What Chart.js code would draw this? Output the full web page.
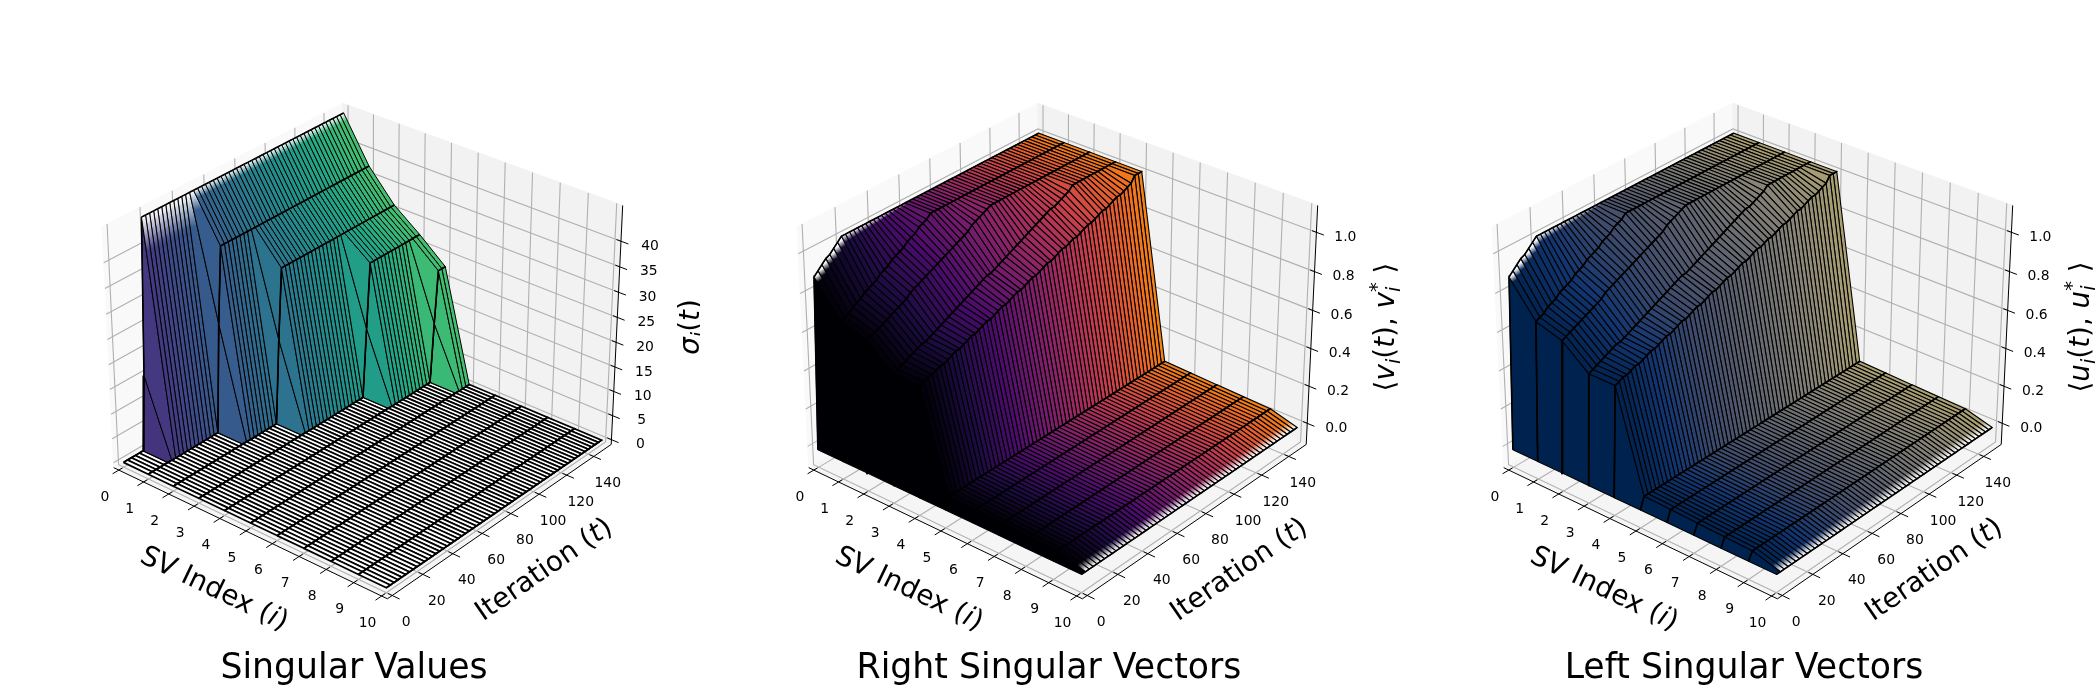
<!DOCTYPE html>
<html>
<head>
<meta charset="utf-8">
<script src="https://cdn.jsdelivr.net/npm/chart.js@4/dist/chart.umd.min.js"></script>
<style>
html, body { margin: 0; background: #fff; }
#wrap { position: relative; width: 2100px; height: 700px; overflow: hidden; }
canvas { position: absolute; top: 0; }
</style>
</head>
<body>
<div id="wrap">
<canvas id="c1" width="700" height="700" style="left:0"></canvas>
<canvas id="c2" width="700" height="700" style="left:700px"></canvas>
<canvas id="c3" width="700" height="700" style="left:1400px"></canvas>
</div>
<script>
// sampled rows of the surfaces
const iterations = [0,2.5,5,7.5,10,12.5,15,17.5,20,22.5, 25,27.5,30,32.5,35,37.5,40,42.5,45,47.5, 50,52.5,55,57.5,60,62.5,65,67.5,70,72.5, 75,77.5,80,82.5,85,87.5,90,92.5,95,97.5, 100,102.5,105,107.5,110,112.5,115,117.5,120,122.5, 125,127.5,130,132.5,135,137.5,140,142.5,145,147.5, 150];
const svIndex = [0,1,2,3,4,5,6,7,8,9,10];

// singular values, one array per SV index
const sigma0 = [0,0,0,0,0,0,15,45.8,45.8,45.8, 45.8,45.8,45.8,45.8,45.8,45.8,45.8,45.8,45.8,45.8, 45.8,45.8,45.8,45.8,45.8,45.8,45.8,45.8,45.8,45.8, 45.8,45.8,45.8,45.8,45.8,45.8,45.8,45.8,45.8,45.8, 45.8,45.8,45.8,45.8,45.8,45.8,45.8,45.8,45.8,45.8, 45.8,45.8,45.8,45.8,45.8,45.8,45.8,45.8,45.8,45.8, 45.8];
const sigma1 = [0,0,0,0,0,0,0,0,0,0, 0,0,0,0,0,0,0,0,0,22, 37,37,37,37,37,37,37,37,37,37, 37,37,37,37,37,37,37,37,37,37, 37,37,37,37,37,37,37,37,37,37, 37,37,37,37,37,37,37,37,37,37, 37];
const sigma2 = [0,0,0,0,0,0,0,0,0,0, 0,0,0,0,0,0,0,0,0,0, 0,0,0,0,0,0,0,0,17,31, 31,31,31,31,31,31,31,31,31,31, 31,31,31,31,31,31,31,31,31,31, 31,31,31,31,31,31,31,31,31,31, 31];
const sigma3 = [0,0,0,0,0,0,0,0,0,0, 0,0,0,0,0,0,0,0,0,0, 0,0,0,0,0,0,0,0,0,0, 0,0,0,0,0,0,0,0,0,0, 0,0,0,0,0,14,27,27,27,27, 27,27,27,27,27,27,27,27,27,27, 27];
const sigma4 = [0,0,0,0,0,0,0,0,0,0, 0,0,0,0,0,0,0,0,0,0, 0,0,0,0,0,0,0,0,0,0, 0,0,0,0,0,0,0,0,0,0, 0,0,0,0,0,0,0,0,0,0, 0,0,0,0,0,0,0,12,22.5,22.5, 22.5];
const sigmaRest = [0,0,0,0,0,0,0,0,0,0, 0,0,0,0,0,0,0,0,0,0, 0,0,0,0,0,0,0,0,0,0, 0,0,0,0,0,0,0,0,0,0, 0,0,0,0,0,0,0,0,0,0, 0,0,0,0,0,0,0,0,0,0, 0];

// alignment with the true vectors, reads the same on the right and left panels
const align0 = [-.02,.87,.89,.91,.93,.94,.96,.98,1,1, 1,1,1,1,1,1,1,1,1,1, 1,1,1,1,1,1,1,1,1,1, 1,1,1,1,1,1,1,1,1,1, 1,1,1,1,1,1,1,1,1,1, 1,1,1,1,1,1,1,1,1,1, 1];
const align1 = [-.02,.70,.71,.72,.74,.75,.76,.78,.79,.80, .81,.83,.84,.85,.87,.88,.89,.90,.92,.93, .94,.96,.97,.98,1,1,1,1,1,1, 1,1,1,1,1,1,1,1,1,1, 1,1,1,1,1,1,1,1,1,1, 1,1,1,1,1,1,1,1,1,1, 1];
const align2 = [-.02,.66,.67,.68,.69,.70,.71,.72,.73,.74, .75,.76,.78,.79,.80,.81,.82,.83,.84,.85, .86,.87,.88,.89,.90,.91,.92,.93,.95,.96, .97,.98,.99,1,1,1,1,1,1,1, 1,1,1,1,1,1,1,1,1,1, 1,1,1,1,1,1,1,1,1,1, 1];
const align3 = [-.02,.55,.56,.57,.58,.59,.60,.61,.62,.62, .63,.64,.65,.66,.67,.68,.69,.70,.71,.72, .73,.74,.75,.76,.77,.78,.78,.79,.80,.81, .82,.83,.84,.85,.86,.87,.88,.89,.90,.91, .92,.93,.94,.94,.95,.96,.97,.98,1,1, 1,1,1,1,1,1,1,1,1,1, 1];
const align4 = [-.02,.55,.56,.57,.57,.58,.59,.59,.60,.61, .62,.62,.63,.64,.65,.65,.66,.67,.68,.68, .69,.70,.71,.71,.72,.73,.74,.74,.75,.76, .77,.77,.78,.79,.80,.80,.81,.82,.83,.83, .84,.85,.85,.86,.87,.88,.88,.89,.90,.91, .91,.92,.93,.94,.94,.95,.96,.97,1,1, 1];
const align5 = [-.02,.04,.04,.04,.04,.04,.04,.04,.04,.04, .04,.04,.04,.04,.04,.04,.04,.04,.04,.04, .04,.04,.04,.04,.04,.04,.04,.04,.04,.04, .04,.04,.04,.04,.04,.04,.04,.04,.04,.04, .04,.04,.04,.04,.04,.04,.04,.04,.04,.04, .04,.04,.04,.04,.04,.04,.04,.04,.04,.04, .04];
const align6 = [-.02,.035,.035,.035,.035,.035,.035,.035,.035,.035, .035,.035,.035,.035,.035,.035,.035,.035,.035,.035, .035,.035,.035,.035,.035,.035,.035,.035,.035,.035, .035,.035,.035,.035,.035,.035,.035,.035,.035,.035, .035,.035,.035,.035,.035,.035,.035,.035,.035,.035, .035,.035,.035,.035,.035,.035,.035,.035,.035,.035, .035];
const align7 = [-.02,.03,.03,.03,.03,.03,.03,.03,.03,.03, .03,.03,.03,.03,.03,.03,.03,.03,.03,.03, .03,.03,.03,.03,.03,.03,.03,.03,.03,.03, .03,.03,.03,.03,.03,.03,.03,.03,.03,.03, .03,.03,.03,.03,.03,.03,.03,.03,.03,.03, .03,.03,.03,.03,.03,.03,.03,.03,.03,.03, .03];
const align8 = [-.02,.025,.025,.025,.025,.025,.025,.025,.025,.025, .025,.025,.025,.025,.025,.025,.025,.025,.025,.025, .025,.025,.025,.025,.025,.025,.025,.025,.025,.025, .025,.025,.025,.025,.025,.025,.025,.025,.025,.025, .025,.025,.025,.025,.025,.025,.025,.025,.025,.025, .025,.025,.025,.025,.025,.025,.025,.025,.025,.025, .025];
const align9 = [-.02,.02,.02,.02,.02,.02,.02,.02,.02,.02, .02,.02,.02,.02,.02,.02,.02,.02,.02,.02, .02,.02,.02,.02,.02,.02,.02,.02,.02,.02, .02,.02,.02,.02,.02,.02,.02,.02,.02,.02, .02,.02,.02,.02,.02,.02,.02,.02,.02,.02, .02,.02,.02,.02,.02,.02,.02,.02,.02,.02, .02];
const align10 = [-.02,-.02,-.02,-.02,-.02,-.02,-.02,-.02,-.02,-.02, -.02,-.02,-.02,-.02,-.02,-.02,-.02,-.02,-.02,-.02, -.02,-.02,-.02,-.02,-.02,-.02,-.02,-.02,-.02,-.02, -.02,-.02,-.02,-.02,-.02,-.02,-.02,-.02,-.02,-.02, -.02,-.02,-.02,-.02,-.02,-.02,-.02,-.02,-.02,-.02, -.02,-.02,-.02,-.02,-.02,-.02,-.02,-.02,-.02,-.02, -.02];

// tick labels
const xTicks = [0,1,2,3,4,5,6,7,8,9,10];
const yTicks = [0,20,40,60,80,100,120,140];
const sigmaTicks = [0,5,10,15,20,25,30,35,40];
const alignTicks = [0,0.2,0.4,0.6,0.8,1.0];

const viridis = ['#440154','#482475','#414487','#355f8d','#2a788e','#21918c','#22a884','#44bf70'];
const inferno = ['#000004','#1b0c41','#4a0c6b','#781c6d','#a52c60','#cf4446','#ed6925','#fb9b06'];
const cividis = ['#00224e','#123570','#3b496c','#575c6d','#707173','#8a8678','#a59c74','#c3b369'];

const alignCols = [align0,align1,align2,align3,align4,align5,align6,align7,align8,align9,align10];
const panels = [
  { id: 'c1', cols: [sigma0,sigma1,sigma2,sigma3,sigma4,sigmaRest,sigmaRest,sigmaRest,sigmaRest,sigmaRest,sigmaRest],
    cmap: viridis, cRange: [.1,.7], zlim: [-1,46.9], high: 40, zTicks: sigmaTicks, digits: 0, cx: 364, fade: .14, flatWhite: true, edge: 1,
    title: 'Singular Values', zLabel: [{t:'σ',it:1},{t:'i',it:1,sub:1},{t:'('},{t:'t',it:1},{t:')'}] },
  { id: 'c2', cols: alignCols,
    cmap: inferno, cRange: [0,.65], zlim: [-.115,1.135], high: .5, zTicks: alignTicks, digits: 1, cx: 359, fade: .12, flatWhite: false, edge: 1.1,
    title: 'Right Singular Vectors', zLabel: [{t:'⟨'},{t:'v',it:1},{t:'i',it:1,sub:1},{t:'('},{t:'t',it:1},{t:'), '},{t:'v',it:1},{t:'i',it:1,sub:1,noAdv:1},{t:'*',sup:1},{t:' ⟩'}] },
  { id: 'c3', cols: alignCols,
    cmap: cividis, cRange: [0,.62], zlim: [-.115,1.135], high: .5, zTicks: alignTicks, digits: 1, cx: 354, fade: .12, flatWhite: false, edge: 1.1,
    title: 'Left Singular Vectors', zLabel: [{t:'⟨'},{t:'u',it:1},{t:'i',it:1,sub:1},{t:'('},{t:'t',it:1},{t:'), '},{t:'u',it:1},{t:'i',it:1,sub:1,noAdv:1},{t:'*',sup:1},{t:' ⟩'}] }
];

const XLIM = [-.208, 10.208], YLIM = [-3.1, 153.1];
const ELEV = 30 * Math.PI / 180, AZIM = -50 * Math.PI / 180, DIST = 10;
const BOX = [1.1905, 1.1905, .913];
const SCALE = 3034, CY = 338.7;

const ce = Math.cos(ELEV), se = Math.sin(ELEV), ca = Math.cos(AZIM), sa = Math.sin(AZIM);
const W = [ce*ca, ce*sa, se], U = [-sa, ca, 0], V = [-se*ca, -se*sa, ce];

function projector(zlim) {
  return (x, y, z) => {
    const p = [
      ((x-XLIM[0])/(XLIM[1]-XLIM[0]) - .5) * BOX[0],
      ((y-YLIM[0])/(YLIM[1]-YLIM[0]) - .5) * BOX[1],
      ((z-zlim[0])/(zlim[1]-zlim[0]) - .5) * BOX[2]
    ];
    const d = p[0]*W[0] + p[1]*W[1] + p[2]*W[2];
    const s = 1 / (DIST - d);
    return { x: (p[0]*U[0] + p[1]*U[1]) * s, y: (p[0]*V[0] + p[1]*V[1] + p[2]*V[2]) * s, d };
  };
}

function mapColor(stops, f) {
  const pos = Math.min(f * 10, stops.length - 1.001), i = Math.floor(pos), r = pos - i;
  const h = s => [1,3,5].map(n => parseInt(s.substr(n,2),16));
  const a = h(stops[i]), b = h(stops[i+1]);
  return a.map((v,n) => Math.round(v + (b[n]-v)*r));
}

function lineSet(pts, color, width) {
  return { data: pts.map(p => ({x:p.x, y:p.y})), borderColor: color, borderWidth: width, pointRadius: 0, fill: false, tension: 0, clip: false };
}
function polySet(pts, fillColor, edge, width) {
  const data = pts.map(p => ({x:p.x, y:p.y}));
  data.push(data[0]);
  return { data, backgroundColor: fillColor, borderColor: edge, borderWidth: width, pointRadius: 0, fill: 'shape', tension: 0, clip: false };
}

// outer edge of the surface fades out over the first part of the facet
function fadeFill(rgb, from, to, frac) {
  const solid = `rgb(${rgb.join(',')})`;
  return c => {
    const sc = c.chart.scales;
    if (!sc.x || !sc.y) return solid;
    const x0 = sc.x.getPixelForValue(from.x), y0 = sc.y.getPixelForValue(from.y);
    const x1 = sc.x.getPixelForValue(to.x), y1 = sc.y.getPixelForValue(to.y);
    if (![x0,y0,x1,y1].every(Number.isFinite)) return solid;
    const g = c.chart.ctx.createLinearGradient(x0, y0, x1, y1);
    g.addColorStop(0, 'rgba(255,255,255,.95)');
    g.addColorStop(frac, solid);
    g.addColorStop(1, solid);
    return g;
  };
}

function buildDatasets(pn) {
  const P = projector(pn.zlim), zl = pn.zlim;
  const facets = [];
  for (let i = 0; i < svIndex.length - 1; i++) {
    for (let k = 0; k < iterations.length - 1; k++) {
      const z = [pn.cols[i][k], pn.cols[i+1][k], pn.cols[i+1][k+1], pn.cols[i][k+1]];
      const pts = [
        P(svIndex[i], iterations[k], z[0]), P(svIndex[i+1], iterations[k], z[1]),
        P(svIndex[i+1], iterations[k+1], z[2]), P(svIndex[i], iterations[k+1], z[3])
      ];
      const f = pn.cRange[0] + (pn.cRange[1]-pn.cRange[0]) * k / (iterations.length - 2);
      const rgb = mapColor(pn.cmap, f);
      const flat = pn.flatWhite && z.every(v => v === 0);
      let fill = `rgb(${rgb.join(',')})`;
      if (flat) fill = '#fff';
      else if (i === 0 && z[0] > pn.high) fill = fadeFill(rgb, pts[0], pts[1], pn.fade);
      else if (i === svIndex.length - 2 && !pn.flatWhite && k > 0) fill = fadeFill(rgb, pts[1], pts[0], .3);
      // constant-index edges read heavier than the rows
      const ridge = lineSet([pts[0], pts[3]], '#000', 1.6);
      ridge.data.push({x:null, y:null}, {x:pts[1].x, y:pts[1].y}, {x:pts[2].x, y:pts[2].y});
      facets.push({ d: pts.reduce((s,p) => s + p.d, 0) / 4, sets: [ridge, polySet(pts, fill, '#000', flat ? 1.7 : pn.edge)] });
    }
  }
  facets.sort((a,b) => b.d - a.d);
  const sets = facets.flatMap(f => f.sets);

  // axis lines and tick marks
  const xr = XLIM[1]-XLIM[0], yr = YLIM[1]-YLIM[0];
  xTicks.forEach(x => sets.push(lineSet([P(x, YLIM[0]+yr*.015, zl[0]), P(x, YLIM[0]-yr*.025, zl[0])], '#000', 1)));
  yTicks.forEach(y => sets.push(lineSet([P(XLIM[1]-xr*.015, y, zl[0]), P(XLIM[1]+xr*.025, y, zl[0])], '#000', 1)));
  pn.zTicks.forEach(z => sets.push(lineSet([P(XLIM[1]-xr*.015, YLIM[1], z), P(XLIM[1]+xr*.025, YLIM[1], z)], '#000', 1)));
  sets.push(lineSet([P(XLIM[0],YLIM[0],zl[0]), P(XLIM[1],YLIM[0],zl[0])], '#000', 1));
  sets.push(lineSet([P(XLIM[1],YLIM[0],zl[0]), P(XLIM[1],YLIM[1],zl[0])], '#000', 1));
  sets.push(lineSet([P(XLIM[1],YLIM[1],zl[0]), P(XLIM[1],YLIM[1],zl[1])], '#000', 1));

  // grid on the panes
  const grid = '#b0b0b0';
  pn.zTicks.forEach(z => {
    sets.push(lineSet([P(XLIM[0],YLIM[0],z), P(XLIM[0],YLIM[1],z), P(XLIM[1],YLIM[1],z)], grid, 1.1));
  });
  xTicks.forEach(x => sets.push(lineSet([P(x,YLIM[0],zl[0]), P(x,YLIM[1],zl[0]), P(x,YLIM[1],zl[1])], grid, 1.1)));
  yTicks.forEach(y => sets.push(lineSet([P(XLIM[1],y,zl[0]), P(XLIM[0],y,zl[0]), P(XLIM[0],y,zl[1])], grid, 1.1)));

  // panes
  sets.push(polySet([P(XLIM[0],YLIM[0],zl[0]),P(XLIM[1],YLIM[0],zl[0]),P(XLIM[1],YLIM[1],zl[0]),P(XLIM[0],YLIM[1],zl[0])], '#f5f5f5', '#f5f5f5', 1));
  sets.push(polySet([P(XLIM[0],YLIM[1],zl[0]),P(XLIM[1],YLIM[1],zl[0]),P(XLIM[1],YLIM[1],zl[1]),P(XLIM[0],YLIM[1],zl[1])], '#f2f2f2', '#f2f2f2', 1));
  sets.push(polySet([P(XLIM[0],YLIM[0],zl[0]),P(XLIM[0],YLIM[1],zl[0]),P(XLIM[0],YLIM[1],zl[1]),P(XLIM[0],YLIM[0],zl[1])], '#f9f9f9', '#f9f9f9', 1));
  return sets;
}

function drawRuns(ctx, runs, cx, cy, angle, size) {
  const font = r => `${r.it ? 'italic ' : ''}${(r.sub || r.sup) ? size*.7 : size}px "DejaVu Sans"`;
  let total = 0;
  runs.forEach(r => { ctx.font = font(r); if (!r.noAdv) total += ctx.measureText(r.t).width; });
  ctx.save();
  ctx.translate(cx, cy);
  ctx.rotate(angle);
  ctx.textAlign = 'left';
  ctx.textBaseline = 'alphabetic';
  ctx.fillStyle = '#000';
  let x = -total / 2;
  runs.forEach(r => {
    ctx.font = font(r);
    const dy = r.sub ? size*.22 : r.sup ? -size*.4 : 0;
    ctx.fillText(r.t, x, size*.36 + dy);
    if (!r.noAdv) x += ctx.measureText(r.t).width;
  });
  ctx.restore();
}

const textPlugin = {
  id: 'panelText',
  afterDraw(chart, args, opts) {
    const pn = opts.panel, ctx = chart.ctx, P = projector(pn.zlim), zl = pn.zlim;
    const px = p => [chart.scales.x.getPixelForValue(p.x), chart.scales.y.getPixelForValue(p.y)];
    ctx.save();
    ctx.fillStyle = '#000';
    ctx.font = '13.9px "DejaVu Sans"';
    ctx.textAlign = 'center';
    ctx.textBaseline = 'middle';
    xTicks.forEach(x => { const [a,b] = px(P(x, YLIM[0], zl[0])); ctx.fillText(String(x), a-14, b+27); });
    yTicks.forEach(y => { const [a,b] = px(P(XLIM[1], y, zl[0])); ctx.fillText(String(y), a+14, b+27); });
    pn.zTicks.forEach(z => { const [a,b] = px(P(XLIM[1], YLIM[1], z)); ctx.fillText(z.toFixed(pn.digits), a+29, b+5); });
    ctx.font = '34.7px "DejaVu Sans"';
    ctx.fillText(pn.title, pn.cx - 10, 669);
    ctx.restore();

    const a0 = px(P(XLIM[0],YLIM[0],zl[0])), a1 = px(P(XLIM[1],YLIM[0],zl[0])), a2 = px(P(XLIM[1],YLIM[1],zl[0]));
    drawRuns(ctx, [{t:'SV Index ('},{t:'i',it:1},{t:')'}], pn.cx-149, 587, Math.atan2(a1[1]-a0[1], a1[0]-a0[0]), 27.8);
    drawRuns(ctx, [{t:'Iteration ('},{t:'t',it:1},{t:')'}], pn.cx+179, 568, Math.atan2(a2[1]-a1[1], a2[0]-a1[0]), 27.8);
    drawRuns(ctx, pn.zLabel, pn.cx+325, 327, -Math.PI/2, 27.8);
  }
};

panels.forEach(pn => {
  new Chart(document.getElementById(pn.id), {
    type: 'line',
    data: { datasets: buildDatasets(pn) },
    plugins: [textPlugin],
    options: {
      animation: false, responsive: false, events: [],
      layout: { padding: 0 },
      plugins: { legend: { display: false }, tooltip: { enabled: false }, panelText: { panel: pn } },
      scales: {
        x: { type: 'linear', display: false, min: -pn.cx/SCALE, max: (700-pn.cx)/SCALE },
        y: { type: 'linear', display: false, min: (CY-700)/SCALE, max: CY/SCALE }
      }
    }
  });
});
</script>
</body>
</html>
